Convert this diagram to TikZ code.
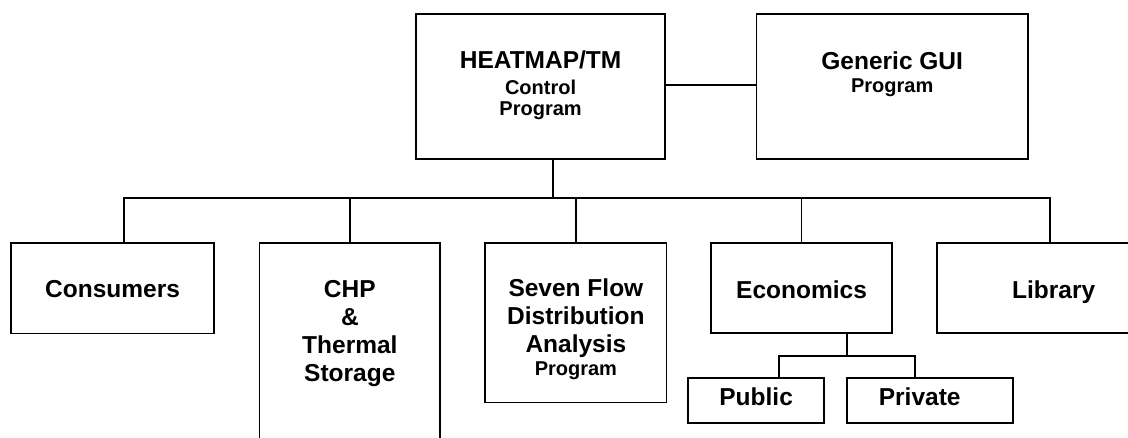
\documentclass[tikz,border=0pt]{standalone}
\usepackage{fontspec}
\setmainfont{Liberation Sans}
\usetikzlibrary{positioning}
\newcommand{\progfont}{\fontsize{20}{20}\selectfont}

\tikzset{
	box/.style={draw, inner sep=0pt, outer sep=0pt},
	openbox/.style={inner sep=0pt, outer sep=0pt},
	txt/.style={inner sep=0pt, align=center, font=\fontsize{24.5}{28}\selectfont\bfseries},
}

\begin{document}
\begin{tikzpicture}[x=1pt, y=-1pt, line width=1.7pt]
		\useasboundingbox (0,0) rectangle (1128,437);
		
		%top row
		\node at (540.6, 86.65) [box, minimum width=248.8pt, minimum height=144.7pt] (heat) {};
		\node at (892.2, 86.65) [box, minimum width=271.6pt, minimum height=144.7pt] (gui) {};
		\node[txt, below=35.2pt of heat.north] (heattxt) {HEATMAP/TM\\[-1.4pt]{\progfont Control}\\[-7.7pt]{\progfont Program}};
		\node[txt, below=36.5pt of gui.north] (guitxt) {Generic GUI\\[-4.6pt]{\progfont Program}};
		\draw ([yshift=2pt]heat.east) -- ([yshift=2pt]gui.west);
		
		%second row
		\node at (112.6, 288.1) [box, minimum width=203.3pt, minimum height=90.8pt] (cons) {};
		\node at (349.85, 340.35) [openbox, minimum width=180.9pt, minimum height=195.3pt] (chp) {};
		\node at (575.9, 322.6) [box, minimum width=181.2pt, minimum height=159.8pt] (seven) {};
		\node at (801.55, 288) [box, minimum width=181.5pt, minimum height=90.6pt] (econ) {};
		\node at (1032.85, 288) [openbox, minimum width=192.3pt, minimum height=90.6pt] (lib) {};
		\draw (chp.south west) -- (chp.north west) -- (chp.north east) -- (chp.south east);
		\draw (lib.north east) -- (lib.north west) -- (lib.south west) -- (lib.south east);
		
		\node[txt, below=36.9pt of cons.north] (constxt) {Consumers};
		\node[txt, below=36.9pt of chp.north] (chptxt) {CHP\\\&\\Thermal\\Storage};
		\node[txt, below=35.6pt of seven.north] (seventxt) {Seven Flow\\Distribution\\Analysis\\[-5.7pt]{\progfont Program}};
		\node[txt, below=37.4pt of econ.north] (econtxt) {Economics};
		\node[txt, below=36.8pt of lib.north, xshift=20.8pt] (libtxt) {Library};
		
		%bus
		\coordinate (hub) at (553.2, 197.7);
		\coordinate (busL) at (123.7, 197.7);
		\coordinate (busR) at (1050.3, 197.7);
		\draw (heat.south -| hub) -- (hub);
		\draw (cons.north -| busL) -- (busL) -- (busR) -- (lib.north -| busR);
		\foreach \b in {chp, seven, econ}{
			\draw (\b.north) -- (\b.north |- hub);
		}
		
		%economics split
		\node at (756.15, 400.5) [box, minimum width=135.7pt, minimum height=45.6pt] (pub) {};
		\node at (929.7, 400.5) [box, minimum width=166pt, minimum height=45.6pt] (priv) {};
		\node[txt, below=9.1pt of pub.north] (pubtxt) {Public};
		\node[txt, below=9.1pt of priv.north, xshift=-10pt] (privtxt) {Private};
		\coordinate (split) at (846.7, 356);
		\coordinate (pubT) at (779, 356);
		\coordinate (privT) at (915, 356);
		\draw (econ.south -| split) -- (split);
		\draw (pub.north -| pubT) -- (pubT) -- (privT) -- (priv.north -| privT);
\end{tikzpicture}
\end{document}
